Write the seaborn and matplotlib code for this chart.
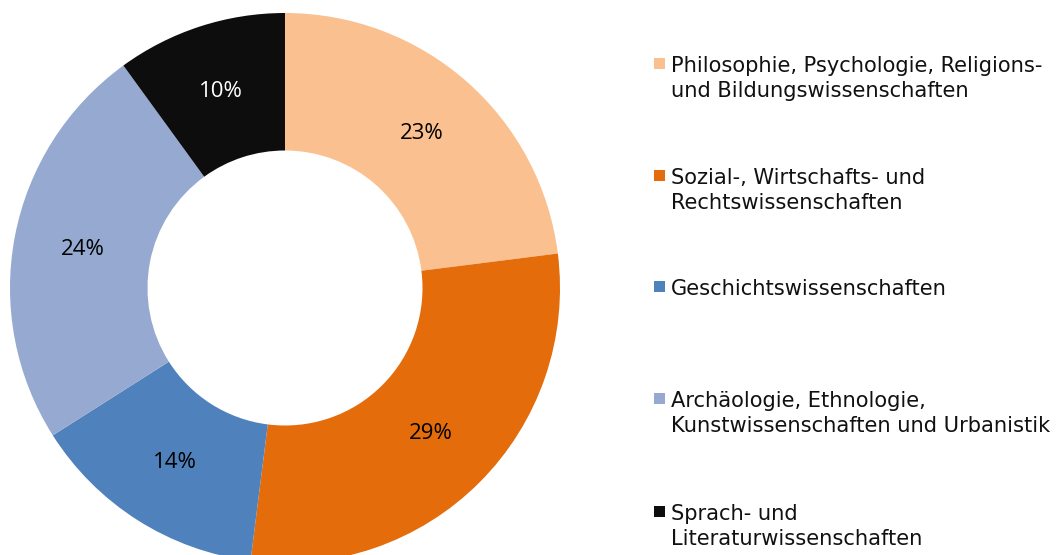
import matplotlib
matplotlib.use('Agg')
import matplotlib.pyplot as plt
import seaborn as sns
from matplotlib.patches import Rectangle

sns.set_theme(style='white')
plt.rcParams['font.family'] = ['DejaVu Sans']

# data
categories = ['Philosophie, Psychologie, Religions-\nund Bildungswissenschaften',
              'Sozial-, Wirtschafts- und\nRechtswissenschaften',
              'Geschichtswissenschaften',
              'Archäologie, Ethnologie,\nKunstwissenschaften und Urbanistik',
              'Sprach- und\nLiteraturwissenschaften']
shares = [23, 29, 14, 24, 10]
colors = ['#FAC090', '#E46C0A', '#4F81BD', '#95A9D1', '#0D0D0D']
label_colors = ['black', 'black', 'black', 'black', 'white']

W, H = 1060, 555
fig = plt.figure(figsize=(W / 100, H / 100), dpi=100)

# pie axes: centre (285, 288) px, radius 275 px
cx, cy, r = 285, 288, 275
ax = fig.add_axes([(cx - r) / W, (H - cy - r) / H, 2 * r / W, 2 * r / H])
wedges, texts, autotexts = ax.pie(shares, colors=colors, startangle=90, counterclock=False,
                                  radius=1, pctdistance=0.75,
                                  autopct=lambda p: f'{p:.0f}%',
                                  wedgeprops=dict(width=0.5, edgecolor='none'),
                                  textprops=dict(fontsize=16, family='Open Sans'))
for t, c in zip(autotexts, label_colors):
    t.set_color(c)
ax.set_xlim(-1, 1)
ax.set_ylim(-1, 1)
ax.set_aspect('equal')
ax.axis('off')

# legend, baseline of first line in px, 25 px between lines
first_y = [72, 184, 295, 407, 520]
for lab, col, y in zip(categories, colors, first_y):
    fig.patches.append(Rectangle((654 / W, (H - y + 3) / H), 11 / W, 11 / H,
                                 transform=fig.transFigure, facecolor=col,
                                 edgecolor='none'))
    for i, line in enumerate(lab.split('\n')):
        fig.text(671 / W, (H - y - 25 * i) / H, line, fontsize=15.1, color='#111111',
                 va='baseline', ha='left')

fig.savefig('out.png', dpi=100)
